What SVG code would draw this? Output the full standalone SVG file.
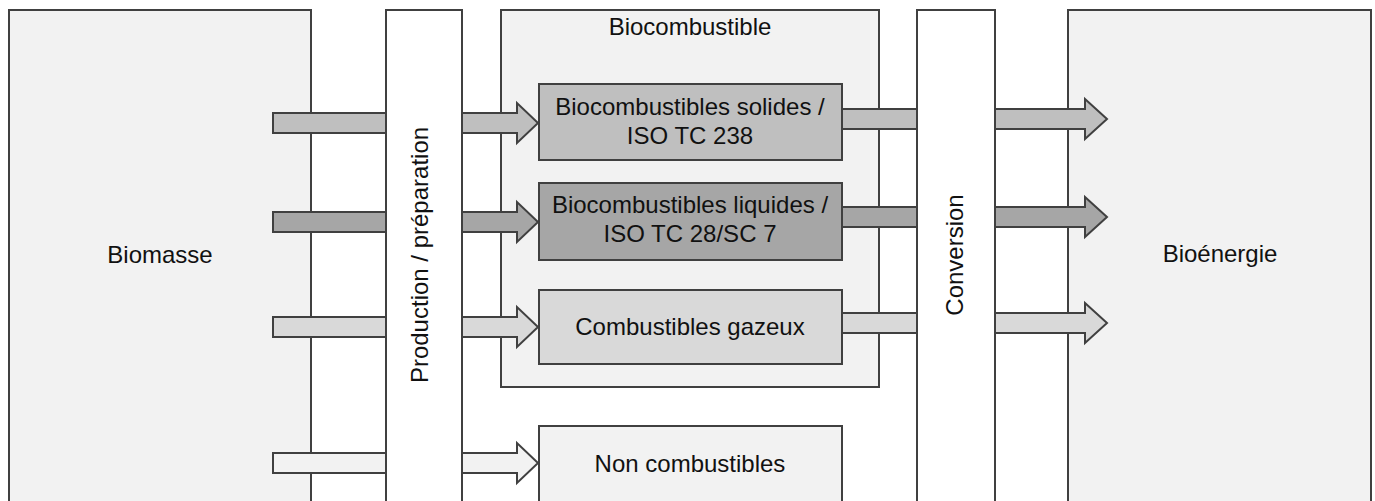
<svg xmlns="http://www.w3.org/2000/svg" width="1375" height="501" viewBox="0 0 1375 501">
<style>
.box{stroke:#404040;stroke-width:2}
.lt{fill:#f2f2f2}
.wh{fill:#ffffff}
.g1{fill:#bfbfbf}
.g2{fill:#a6a6a6}
.g3{fill:#d9d9d9}
.arr{stroke:#404040;stroke-width:2;stroke-linejoin:miter}
text{font-family:"Liberation Sans",Arial,sans-serif;font-size:24px;fill:#111;text-anchor:middle}
</style>
<rect width="1375" height="501" fill="#ffffff"/>
<g id="biomasse">
<rect class="box lt" x="9" y="10" width="302" height="500"/>
<text x="160" y="263">Biomasse</text>
</g>
<g id="production">
<rect class="box wh" x="386" y="10" width="76" height="500"/>
<text transform="translate(428,255) rotate(-90)">Production / préparation</text>
</g>
<g id="biocombustible">
<rect class="box lt" x="501" y="10" width="378" height="377"/>
<text x="690" y="35">Biocombustible</text>
</g>
<g id="solides">
<rect class="box g1" x="539" y="84" width="303" height="76"/>
<text x="690" y="115">Biocombustibles solides /</text>
<text x="690" y="144">ISO TC 238</text>
</g>
<g id="liquides">
<rect class="box g2" x="539" y="183" width="303" height="77"/>
<text x="690" y="213">Biocombustibles liquides /</text>
<text x="690" y="242">ISO TC 28/SC 7</text>
</g>
<g id="gazeux">
<rect class="box g3" x="539" y="290" width="303" height="74"/>
<text x="690" y="335">Combustibles gazeux</text>
</g>
<g id="non-combustibles">
<rect class="box lt" x="539" y="426" width="303" height="90"/>
<text x="690" y="472">Non combustibles</text>
</g>
<g id="conversion">
<rect class="box wh" x="917" y="10" width="78" height="500"/>
<text transform="translate(963,255) rotate(-90)">Conversion</text>
</g>
<g id="bioenergie">
<rect class="box lt" x="1068" y="10" width="303" height="500"/>
<text x="1220" y="262">Bioénergie</text>
</g>
<g id="connectors">
<rect class="arr g1" x="273" y="113" width="113" height="20"/>
<polygon class="arr g1" points="462,113 517,113 517,103 538,123 517,143 517,133 462,133"/>
<rect class="arr g2" x="273" y="212" width="113" height="20"/>
<polygon class="arr g2" points="462,212 517,212 517,202 538,222 517,242 517,232 462,232"/>
<rect class="arr g3" x="273" y="317" width="113" height="20"/>
<polygon class="arr g3" points="462,317 517,317 517,307 538,327 517,347 517,337 462,337"/>
<rect class="arr lt" x="273" y="453" width="113" height="20"/>
<polygon class="arr lt" points="462,453 517,453 517,443 538,463 517,483 517,473 462,473"/>
<rect class="arr g1" x="842" y="109" width="75" height="20"/>
<polygon class="arr g1" points="995,109 1085,109 1085,99 1107,119 1085,139 1085,129 995,129"/>
<rect class="arr g2" x="842" y="207" width="75" height="20"/>
<polygon class="arr g2" points="995,207 1085,207 1085,197 1107,217 1085,237 1085,227 995,227"/>
<rect class="arr g3" x="842" y="313" width="75" height="20"/>
<polygon class="arr g3" points="995,313 1085,313 1085,303 1107,323 1085,343 1085,333 995,333"/>
</g>
</svg>
